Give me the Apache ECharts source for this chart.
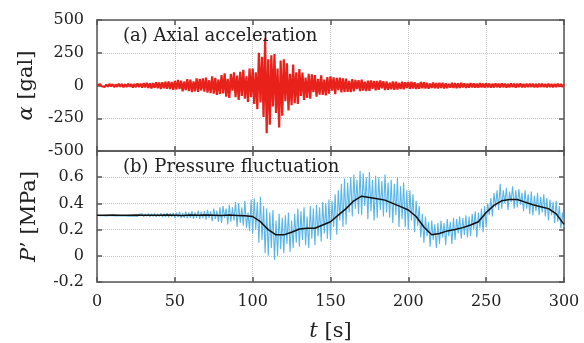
<!DOCTYPE html>
<html>
<head>
<meta charset="utf-8">
<script src="https://cdn.jsdelivr.net/npm/echarts@6/dist/echarts.min.js"></script>
<style>html,body{margin:0;padding:0;background:#fff}#c{width:584px;height:343px}</style>
</head>
<body>
<div id="c"></div>
<script>
// Time axis ticks
const xTicks = [0, 50, 100, 150, 200, 250, 300];
const accTicks = [-500, -250, 0, 250, 500];
const presTicks = [-0.2, 0, 0.2, 0.4, 0.6];

// (a) axial acceleration [gal], one sample per second, t = 0..300
const accel = [
  3, -8, 10, -6, 9, -11, 7, -9, 12, -7,
  10, -12, 8, -10, 13, -9, 11, -14, 9, -12,
  14, -10, 12, -15, 11, -13, 16, -12, 14, -17,
  18, -15, 20, -18, 16, -22, 19, -17, 24, -20,
  22, -26, 25, -21, 28, -24, 30, -27, 26, -32,
  35, -30, 42, -28, 36, -45, 30, -35, 48, -42,
  45, -50, 32, -44, 55, -48, 50, -38, 54, -47,
  60, -55, 40, -58, 70, -62, 58, -72, 45, -65,
  80, -60, 92, -85, 50, -95, 88, -40, 100, -90,
  75, -110, 105, -80, 120, -100, 70, -125, 130, -90,
  130, -140, 100, -180, 250, -130, 220, -240, 360, -365,
  200, -300, 230, -160, 240, -210, 130, -320, 190, -230,
  200, -120, 170, -190, 90, -150, 160, -135, 100, -140,
  125, -80, 98, -110, 60, -95, 90, -100, 85, -50,
  80, -85, 50, -70, 78, -72, 45, -75, 65, -62,
  70, -40, 62, -66, 58, -35, 60, -52, 55, -50,
  52, -48, 35, -50, 48, -44, 42, -28, 40, -42,
  45, -38, 30, -42, 36, -40, 38, -25, 34, -37,
  35, -32, 38, -22, 33, -35, 30, -32, 22, -28,
  30, -33, 28, -30, 20, -26, 28, -29, 25, -18,
  26, -24, 28, -22, 25, -26, 16, -24, 27, -21,
  24, -22, 20, -25, 15, -19, 23, -21, 18, -22,
  21, -18, 20, -22, 17, -20, 13, -16, 21, -18,
  18, -20, 16, -18, 20, -15, 17, -19, 15, -17,
  18, -15, 16, -17, 14, -16, 18, -14, 15, -16,
  17, -14, 15, -16, 13, -15, 16, -13, 14, -15,
  16, -13, 14, -15, 12, -14, 15, -12, 13, -15,
  14, -12, 15, -13, 12, -14, 13, -11, 14, -12,
  13, -14, 11, -13, 14, -12, 13, -11, 12, -13,
  14, -11, 12, -13, 11, -12, 13, -10, 12, -11,
  10
];

// (b) pressure fluctuation [MPa], one sample per second, t = 0..300
const pressure = [
  .31, .314, .306, .313, .307, .315, .305, .312, .308, .314,
  .306, .315, .305, .313, .307, .316, .304, .314, .306, .317,
  .303, .318, .302, .316, .305, .32, .3, .317, .303, .321,
  .299, .319, .302, .322, .298, .32, .301, .324, .297, .321,
  .3, .325, .295, .322, .298, .327, .294, .323, .297, .328,
  .29, .33, .296, .335, .288, .326, .292, .338, .285, .33,
  .29, .34, .282, .332, .29, .345, .28, .335, .288, .342,
  .275, .35, .29, .34, .265, .36, .28, .345, .26, .37,
  .25, .38, .29, .36, .24, .39, .26, .37, .27, .41,
  .22, .40, .25, .37, .23, .42, .21, .33, .19, .43,
  .17, .44, .2, .41, .1, .45, .12, .38, .02, .36,
  .0, .33, .06, .35, -.03, .27, .0, .32, .05, .29,
  .02, .31, .09, .33, .03, .27, .06, .32, .1, .36,
  .07, .34, .12, .37, .08, .3, .06, .38, .13, .36,
  .08, .39, .15, .37, .11, .41, .17, .4, .13, .43,
  .12, .42, .22, .47, .16, .5, .27, .55, .22, .59,
  .24, .56, .33, .6, .3, .62, .36, .58, .32, .65,
  .31, .63, .38, .6, .28, .64, .34, .58, .27, .61,
  .29, .6, .35, .57, .3, .62, .33, .56, .29, .58,
  .25, .55, .31, .6, .22, .53, .28, .56, .22, .5,
  .2, .5, .27, .47, .18, .42, .23, .38, .14, .32,
  .1, .3, .15, .26, .07, .27, .12, .24, .06, .25,
  .09, .27, .14, .25, .08, .28, .15, .26, .09, .29,
  .12, .28, .17, .3, .13, .29, .16, .31, .14, .3,
  .15, .32, .2, .34, .14, .33, .21, .36, .18, .38,
  .22, .4, .31, .44, .3, .48, .37, .5, .35, .55,
  .36, .5, .4, .52, .35, .49, .41, .53, .36, .5,
  .37, .51, .39, .48, .34, .5, .36, .47, .32, .49,
  .31, .46, .34, .48, .31, .45, .33, .47, .3, .44,
  .27, .43, .31, .41, .25, .42, .26, .38, .21, .33,
  .22
];

// moving-average pressure (black line), one sample per 5 s, t = 0..300
const meanTimes = [0,5,10,15,20,25,30,35,40,45,50,55,60,65,70,75,80,85,90,95,100,105,110,115,120,125,130,135,140,145,150,155,160,165,170,175,180,185,190,195,200,205,210,215,220,225,230,235,240,245,250,255,260,265,270,275,280,285,290,295,300];
const meanPressure = [
  .31, .31, .311, .31, .31, .311, .31, .309, .31, .312,
  .31, .308, .311, .309, .312, .31, .307, .311, .308, .305,
  .30, .26, .20, .16, .16, .18, .205, .21, .21, .235,
  .26, .31, .36, .42, .455, .445, .435, .425, .40, .375,
  .35, .30, .22, .16, .17, .19, .20, .215, .235, .26,
  .33, .385, .42, .43, .43, .41, .39, .375, .36, .32,
  .24
];

const serif = '"DejaVu Serif","Liberation Serif",serif';
const axisCol = '#555';
const gridLine = {show: true, lineStyle: {color: '#c4c4c4', type: 'dotted', width: 1}};
const tick = {show: true, inside: true, length: 5, lineStyle: {color: axisCol, width: 1.5}};
const line = {show: true, onZero: false, lineStyle: {color: axisCol, width: 1.5}};
const lbl = {color: '#222', fontFamily: serif, fontSize: 16};

function xA(grid, pos, showLabels, split) {
  return {
    type: 'value', gridIndex: grid, position: pos, min: 0, max: 300, interval: 50,
    axisLine: line, axisTick: tick, splitLine: split ? gridLine : {show: false},
    axisLabel: Object.assign({show: showLabels, margin: 12, showMaxLabel: true}, lbl)
  };
}
function yA(grid, pos, min, max, interval, showLabels, split, fmt) {
  return {
    type: 'value', gridIndex: grid, position: pos, min: min, max: max, interval: interval,
    axisLine: line, axisTick: tick, splitLine: split ? gridLine : {show: false},
    axisLabel: Object.assign({show: showLabels, margin: 13, formatter: fmt}, lbl)
  };
}

const nameStyle = {color: '#222', fontFamily: serif, fontSize: 21,
  rich: {i: {fontStyle: 'italic', fontFamily: serif, fontSize: 21, color: '#222'}}};

const xAxes = [
  xA(0, 'bottom', false, true),
  xA(0, 'top', false, false),
  Object.assign(xA(1, 'bottom', true, true), {
    name: '{i|t} [s]', nameLocation: 'middle', nameGap: 39, nameTextStyle: nameStyle
  }),
  xA(1, 'top', false, false)
];
const yAxes = [
  Object.assign(yA(0, 'left', -500, 500, 250, true, true, v => String(v)), {
    name: '{i|α} [gal]', nameLocation: 'middle', nameGap: 57, nameRotate: 90, nameTextStyle: nameStyle
  }),
  yA(0, 'right', -500, 500, 250, false, false),
  Object.assign(yA(1, 'left', -0.2, 0.8, 0.2, true, true,
    v => (Math.abs(v - 0.8) < 1e-6 ? '' : (Math.abs(v) < 1e-9 ? '0' : String(Math.round(v * 10) / 10)))), {
    name: '{i|P}’ [MPa]', nameLocation: 'middle', nameGap: 57, nameRotate: 90, nameTextStyle: nameStyle
  }),
  yA(1, 'right', -0.2, 0.8, 0.2, false, false)
];

const chart = echarts.init(document.getElementById('c'), null, {renderer: 'canvas'});
chart.setOption({
  animation: false,
  backgroundColor: '#fff',
  grid: [
    {left: 97, right: 20, top: 20, height: 131},
    {left: 97, right: 20, top: 151, height: 132}
  ],
  title: [
    {text: '(a) Axial acceleration', left: 118, top: 22,
      textStyle: {fontFamily: serif, fontSize: 18, fontWeight: 'normal', color: '#222'}},
    {text: '(b) Pressure fluctuation', left: 118, top: 153,
      textStyle: {fontFamily: serif, fontSize: 18, fontWeight: 'normal', color: '#222'}}
  ],
  xAxis: xAxes,
  yAxis: yAxes,
  series: [
    {type: 'line', xAxisIndex: 0, yAxisIndex: 0, showSymbol: false, z: 3,
      data: accel.map((v, i) => [i, v]), lineStyle: {color: '#e8221b', width: 2.2}},
    {type: 'line', xAxisIndex: 2, yAxisIndex: 2, showSymbol: false, z: 3,
      data: pressure.map((v, i) => [i, v]), lineStyle: {color: '#5ab5e8', width: 1.1}},
    {type: 'line', xAxisIndex: 2, yAxisIndex: 2, showSymbol: false, z: 4,
      data: meanTimes.map((t, i) => [t, meanPressure[i]]), lineStyle: {color: '#111', width: 1.5}}
  ]
});
</script>
</body>
</html>
